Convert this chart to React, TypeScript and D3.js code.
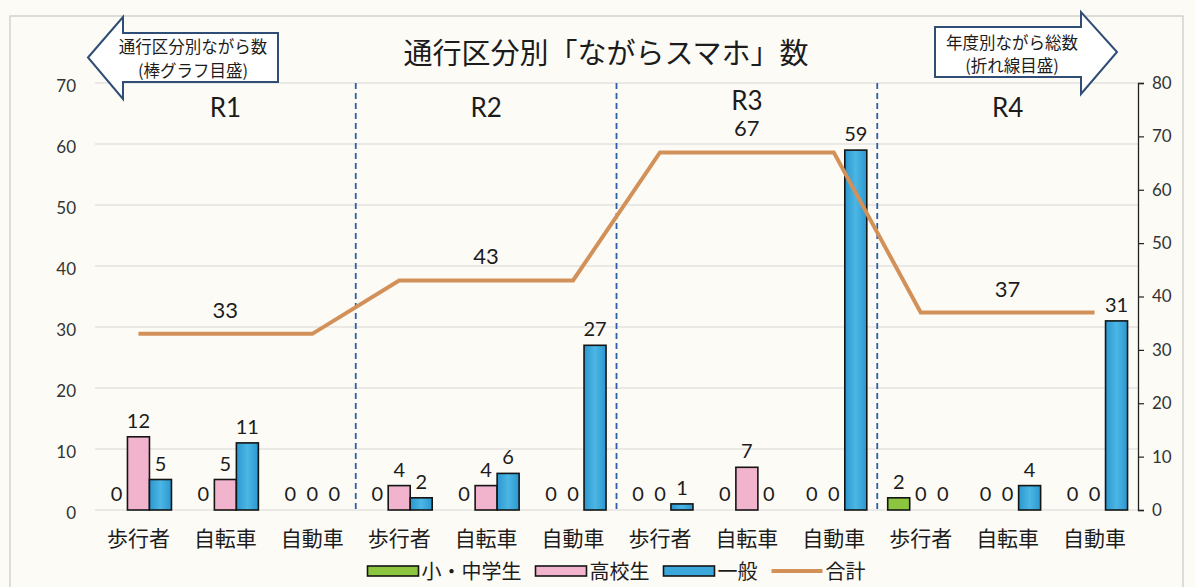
import { useEffect, useRef } from 'react';
import * as d3 from 'd3';

// 年度 / 通行区分
const regions = ['R1', 'R2', 'R3', 'R4'];
const modes = ['歩行者', '自転車', '自動車'];
const seriesNames = ['小・中学生', '高校生', '一般'];

// bar values, one per (年度, 通行区分), in order R1 歩行者 … R4 自動車
const elementaryJunior = [0, 0, 0, 0, 0, 0, 0, 0, 0, 2, 0, 0];
const highSchool = [12, 5, 0, 4, 4, 0, 0, 7, 0, 0, 0, 0];
const general = [5, 11, 0, 2, 6, 27, 1, 0, 59, 0, 4, 31];

// 年度別ながら総数 (折れ線)
const yearTotals = [33, 43, 67, 37];

const leftTicks = [0, 10, 20, 30, 40, 50, 60, 70];
const rightTicks = [0, 10, 20, 30, 40, 50, 60, 70, 80];

const W = 1195;
const H = 587;
const FONT = 'Lato, "Noto Sans CJK JP", sans-serif';
const JP = '"Noto Sans CJK JP", sans-serif';

export default function App() {
  const svgRef = useRef<SVGSVGElement>(null);

  useEffect(() => {
    if (!svgRef.current) return;
    const svg = d3.select(svgRef.current);
    svg.selectAll('*').remove();

    const plot = { left: 95, right: 1138, top: 83, bottom: 510 };
    const colors = ['#8cc63f', '#f2b4cc', 'url(#blueGrad)'];
    const swatchColors = ['#8cc63f', '#f2b4cc', '#3ca7da'];
    const lineColor = '#d3915a';
    const ink = '#1c1c1c';

    const cats = regions.flatMap((r) => modes.map((m) => `${r}|${m}`));
    const values = [elementaryJunior, highSchool, general];

    const x = d3.scaleBand().domain(cats).range([plot.left, plot.right]).padding(0);
    const x1 = d3.scaleBand().domain(seriesNames).range([-33, 33]).padding(0);
    const yL = d3.scaleLinear().domain([0, 70]).range([plot.bottom, plot.top]);
    const yR = d3.scaleLinear().domain([0, 80]).range([plot.bottom, plot.top]);
    const cx = (c: string) => (x(c) as number) + x.bandwidth() / 2;

    const defs = svg.append('defs');
    const grad = defs.append('linearGradient').attr('id', 'blueGrad').attr('x1', 0).attr('x2', 1);
    grad.append('stop').attr('offset', 0).attr('stop-color', '#2a97cf');
    grad.append('stop').attr('offset', 0.5).attr('stop-color', '#4cb6e4');
    grad.append('stop').attr('offset', 1).attr('stop-color', '#2a97cf');

    svg.append('rect').attr('width', W).attr('height', H).attr('fill', '#fcfbf6');
    svg.append('rect')
      .attr('x', 10).attr('y', 16).attr('width', 1173).attr('height', 600)
      .attr('fill', 'none').attr('stroke', '#c9c9c4').attr('stroke-width', 1.2);

    // grid (left scale)
    svg.append('g').selectAll('line').data(leftTicks).join('line')
      .attr('x1', plot.left).attr('x2', plot.right)
      .attr('y1', (d) => yL(d)).attr('y2', (d) => yL(d))
      .attr('stroke', '#d8d8d4').attr('stroke-width', 1.2);

    // left tick labels
    svg.append('g').selectAll('text').data(leftTicks).join('text')
      .attr('x', 76).attr('y', (d) => yL(d) + 9)
      .attr('text-anchor', 'end').attr('font-family', FONT).attr('font-size', 17)
      .attr('fill', '#333').text((d) => d);

    // year dividers
    regions.slice(1).forEach((r) => {
      const dx = x(`${r}|${modes[0]}`) as number;
      svg.append('line')
        .attr('x1', dx).attr('x2', dx)
        .attr('y1', yL(70)).attr('y2', yL(0))
        .attr('stroke', '#2e5fa8').attr('stroke-width', 1.8)
        .attr('stroke-dasharray', '6,4');
    });

    // bars
    seriesNames.forEach((s, si) => {
      svg.append('g').selectAll('rect').data(cats).join('rect')
        .attr('x', (c) => (x(c) as number) + x.bandwidth() / 2 + (x1(s) as number))
        .attr('width', x1.bandwidth())
        .attr('y', (_, i) => yL(values[si][i]))
        .attr('height', (_, i) => yL(0) - yL(values[si][i]))
        .attr('fill', colors[si])
        .attr('stroke', (_, i) => (values[si][i] > 0 ? '#151515' : 'none'))
        .attr('stroke-width', 1.6);
    });

    // total line (right scale)
    const lineData = cats.map((c, i) => ({ c, v: yearTotals[Math.floor(i / modes.length)] }));
    svg.append('path')
      .datum(lineData)
      .attr('d', d3.line<{ c: string; v: number }>().x((d) => cx(d.c)).y((d) => yR(d.v)))
      .attr('fill', 'none').attr('stroke', lineColor).attr('stroke-width', 4)
      .attr('stroke-linejoin', 'miter');

    // bar value labels
    seriesNames.forEach((s, si) => {
      svg.append('g').selectAll('text').data(cats).join('text')
        .attr('x', (c) => (x(c) as number) + x.bandwidth() / 2 + (x1(s) as number) + x1.bandwidth() / 2)
        .attr('y', (_, i) => yL(values[si][i]) - 9)
        .attr('text-anchor', 'middle').attr('font-family', FONT).attr('font-size', 20)
        .attr('fill', ink).text((_, i) => values[si][i]);
    });

    // totals and year labels
    regions.forEach((r, ri) => {
      const mid = cx(`${r}|${modes[1]}`);
      const ly = yR(yearTotals[ri]);
      svg.append('text')
        .attr('x', mid).attr('y', ly - 16)
        .attr('text-anchor', 'middle').attr('font-family', FONT).attr('font-size', 22)
        .attr('fill', ink).text(yearTotals[ri]);
      svg.append('text')
        .attr('x', mid).attr('y', Math.min(117, ly - 42))
        .attr('text-anchor', 'middle').attr('font-family', FONT).attr('font-size', 26)
        .attr('fill', ink).text(r);
    });

    // right axis
    const ra = svg.append('g').attr('transform', `translate(${plot.right},0)`)
      .call(d3.axisRight(yR).tickValues(rightTicks).tickSize(6).tickPadding(8));
    ra.select('.domain').attr('stroke', '#222').attr('stroke-width', 1.3);
    ra.selectAll('.tick line').attr('stroke', '#222').attr('stroke-width', 1.2);
    ra.selectAll('.tick text').attr('font-family', FONT).attr('font-size', 17).attr('fill', '#333');

    // category labels
    svg.append('g').selectAll('text').data(cats).join('text')
      .attr('x', (c) => cx(c)).attr('y', 546)
      .attr('text-anchor', 'middle').attr('font-family', JP).attr('font-size', 21)
      .attr('fill', ink).text((c) => c.split('|')[1]);

    // title
    svg.append('text')
      .attr('x', 606).attr('y', 64)
      .attr('text-anchor', 'middle').attr('font-family', JP).attr('font-size', 29)
      .attr('fill', ink).text('通行区分別「ながらスマホ」数');

    // scale hint arrows
    const arrowStroke = '#2f4d75';
    svg.append('path')
      .attr('d', 'M88,57.5 L123,17 L123,33 L278,33 L278,82 L123,82 L123,99 Z')
      .attr('fill', '#fff').attr('stroke', arrowStroke).attr('stroke-width', 2).attr('stroke-linejoin', 'miter');
    [['通行区分別ながら数', 53], ['(棒グラフ目盛)', 77]].forEach(([t, yy]) => {
      svg.append('text').attr('x', 193).attr('y', yy as number)
        .attr('text-anchor', 'middle').attr('font-family', JP).attr('font-size', 16.5)
        .attr('fill', ink).text(t as string);
    });
    svg.append('path')
      .attr('d', 'M935,27 L1081,27 L1081,12 L1117,52 L1081,94 L1081,77 L935,77 Z')
      .attr('fill', '#fff').attr('stroke', arrowStroke).attr('stroke-width', 2).attr('stroke-linejoin', 'miter');
    [['年度別ながら総数', 49], ['(折れ線目盛)', 72]].forEach(([t, yy]) => {
      svg.append('text').attr('x', 1012).attr('y', yy as number)
        .attr('text-anchor', 'middle').attr('font-family', JP).attr('font-size', 16.5)
        .attr('fill', ink).text(t as string);
    });

    // legend
    const legend = svg.append('g');
    const items = [...seriesNames.map((s, i) => ({ label: s, kind: 'bar', color: swatchColors[i] })),
      { label: '合計', kind: 'line', color: lineColor }];
    let lx = 0;
    items.forEach((it) => {
      const g = legend.append('g').attr('transform', `translate(${lx},0)`);
      if (it.kind === 'bar') {
        g.append('rect').attr('x', 0).attr('y', -5).attr('width', 51).attr('height', 10)
          .attr('fill', it.color).attr('stroke', '#151515').attr('stroke-width', 1.6);
      } else {
        g.append('line').attr('x1', 0).attr('x2', 51).attr('y1', 0).attr('y2', 0)
          .attr('stroke', it.color).attr('stroke-width', 4);
      }
      const t = g.append('text').attr('x', 54).attr('y', 7.5)
        .attr('font-family', JP).attr('font-size', 20).attr('fill', ink).text(it.label);
      const tw = (t.node() as SVGTextElement).getComputedTextLength();
      lx += 54 + tw + 14;
    });
    const total = lx - 14;
    legend.attr('transform', `translate(${(plot.left + plot.right) / 2 - total / 2},571)`);
  }, []);

  return (
    <svg
      ref={svgRef}
      width={W}
      height={H}
      style={{ position: 'absolute', left: 0, top: 0, display: 'block' }}
    />
  );
}
